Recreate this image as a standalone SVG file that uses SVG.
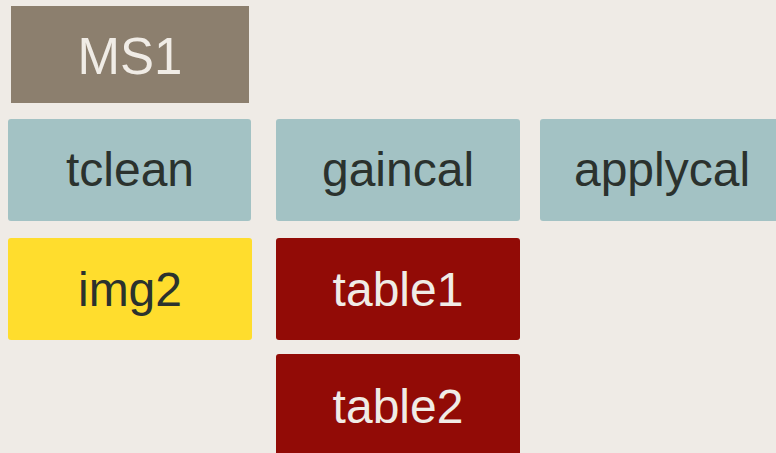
<svg xmlns="http://www.w3.org/2000/svg" width="776" height="453" viewBox="0 0 776 453">
<style>
.t{font-family:"Liberation Sans",Arial,sans-serif;font-size:48px;text-anchor:middle}
.dark{fill:#2b322e}
.light{fill:#f0ece6}
.task{fill:#a3c2c4}
.tbl{fill:#920b06}
</style>
<rect width="776" height="453" fill="#efebe6"/>
<g id="connectors"></g>
<g id="MS1"><rect x="11" y="6" width="238" height="97" fill="#8c7f6e"/><text class="t light" x="130" y="74" style="font-size:51px">MS1</text></g>
<g id="tclean"><rect class="task" x="8" y="119" width="243" height="102" rx="3"/><text class="t dark" x="130" y="186">tclean</text></g>
<g id="gaincal"><rect class="task" x="276" y="119" width="244" height="102" rx="3"/><text class="t dark" x="398" y="186">gaincal</text></g>
<g id="applycal"><rect class="task" x="540" y="119" width="244" height="102" rx="3"/><text class="t dark" x="662" y="186">applycal</text></g>
<g id="img2"><rect x="8" y="238" width="244" height="102" rx="3" fill="#ffdd2d"/><text class="t dark" x="130" y="306">img2</text></g>
<g id="table1"><rect class="tbl" x="276" y="238" width="244" height="102" rx="3"/><text class="t light" x="398" y="306">table1</text></g>
<g id="table2"><rect class="tbl" x="276" y="354" width="244" height="102" rx="3"/><text class="t light" x="398" y="423">table2</text></g>
</svg>
